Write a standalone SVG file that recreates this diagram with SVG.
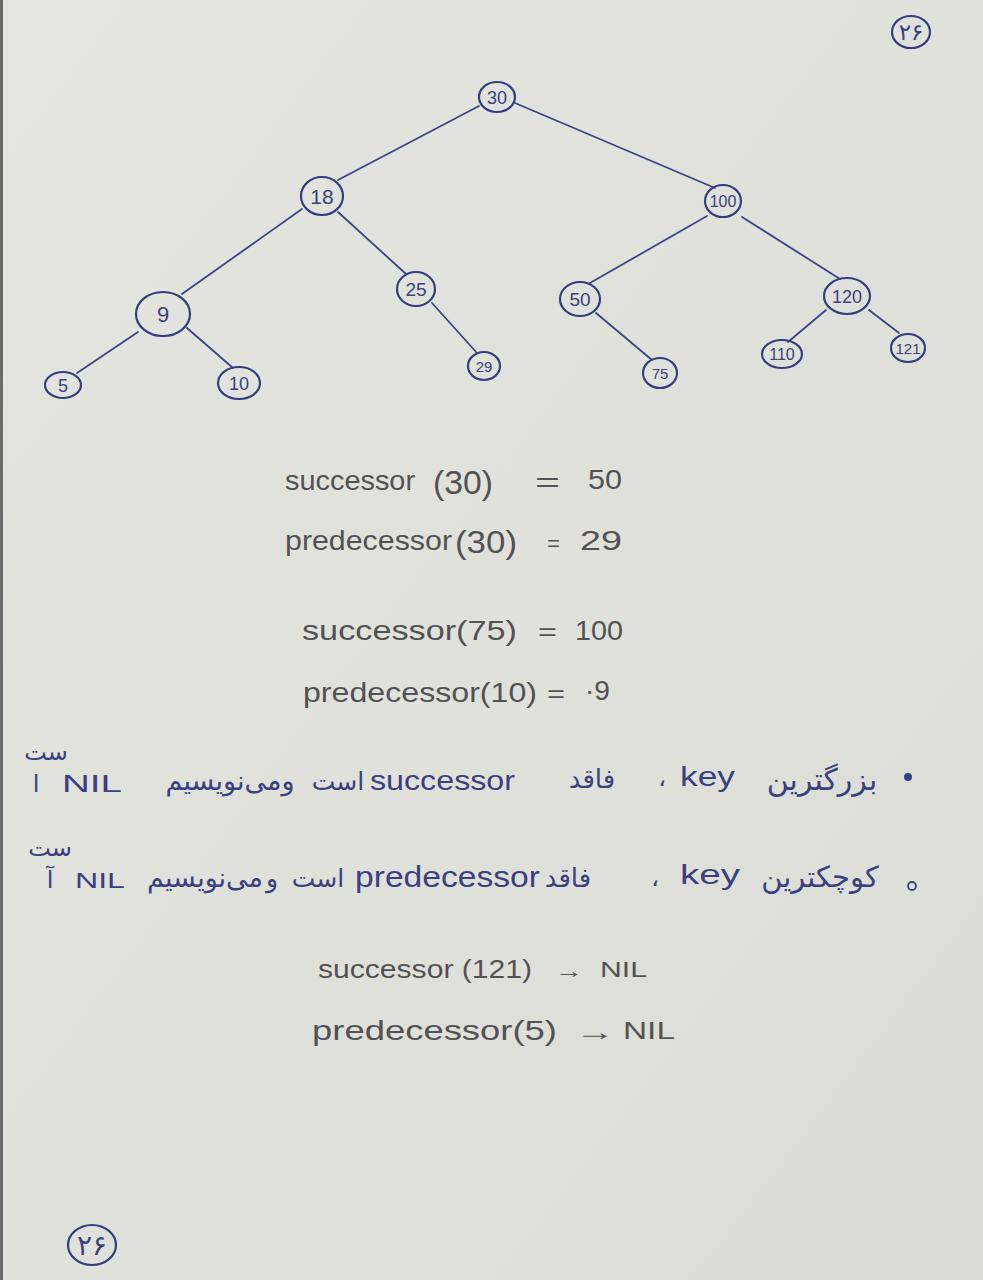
<svg xmlns="http://www.w3.org/2000/svg" width="983" height="1280" viewBox="0 0 983 1280">
<defs>
<linearGradient id="paper" x1="0" y1="0" x2="1" y2="1">
<stop offset="0" stop-color="#e4e4e0"/>
<stop offset="0.5" stop-color="#e1e1dc"/>
<stop offset="1" stop-color="#dcdcd6"/>
</linearGradient>
<style>
.edge{fill:none;stroke:#3d4484;stroke-width:1.8;stroke-linecap:round}
.ring{fill:none;stroke:#363d7e;stroke-width:2.2}
.nl{font-family:"Liberation Sans",sans-serif;fill:#3a4080;text-anchor:middle}
.pen{font-family:"Liberation Sans",sans-serif;fill:#525256}
.blue{font-family:"Liberation Sans",sans-serif;fill:#3a4080}
.fa{font-family:"DejaVu Sans","Noto Sans",sans-serif;fill:#3a4080;text-anchor:middle}
</style>
</defs>
<rect x="0" y="0" width="983" height="1280" fill="url(#paper)"/>
<rect x="0" y="0" width="3" height="1280" fill="#6a6a6a"/>

<g id="connectors">
<line class="edge" x1="479" y1="106" x2="338" y2="180"/>
<line class="edge" x1="515" y1="103" x2="715" y2="188"/>
<line class="edge" x1="302" y1="209" x2="182" y2="294"/>
<line class="edge" x1="338" y1="212" x2="406" y2="274"/>
<line class="edge" x1="138" y1="332" x2="77" y2="373"/>
<line class="edge" x1="187" y1="328" x2="233" y2="368"/>
<line class="edge" x1="432" y1="303" x2="477" y2="353"/>
<line class="edge" x1="707" y1="216" x2="590" y2="283"/>
<line class="edge" x1="742" y1="217" x2="840" y2="279"/>
<line class="edge" x1="596" y1="313" x2="652" y2="360"/>
<line class="edge" x1="826" y1="310" x2="788" y2="342"/>
<line class="edge" x1="869" y1="310" x2="899" y2="333"/>
</g>

<g id="n30"><ellipse class="ring" cx="497" cy="97" rx="18" ry="15"/><text class="nl" x="497" y="104" font-size="18">30</text></g>
<g id="n18"><ellipse class="ring" cx="322" cy="196" rx="21" ry="19"/><text class="nl" x="322" y="204" font-size="21">18</text></g>
<g id="n100"><ellipse class="ring" cx="723" cy="201" rx="18" ry="16"/><text class="nl" x="723" y="207" font-size="16">100</text></g>
<g id="n9"><ellipse class="ring" cx="163" cy="314" rx="27" ry="22"/><text class="nl" x="163" y="322" font-size="22">9</text></g>
<g id="n25"><ellipse class="ring" cx="416" cy="289" rx="19" ry="17"/><text class="nl" x="416" y="296" font-size="19">25</text></g>
<g id="n50"><ellipse class="ring" cx="580" cy="299" rx="20" ry="17"/><text class="nl" x="580" y="306" font-size="19">50</text></g>
<g id="n120"><ellipse class="ring" cx="847" cy="296" rx="23" ry="18"/><text class="nl" x="847" y="303" font-size="18">120</text></g>
<g id="n5"><ellipse class="ring" cx="63" cy="385" rx="18" ry="13"/><text class="nl" x="63" y="392" font-size="18">5</text></g>
<g id="n10"><ellipse class="ring" cx="239" cy="383" rx="21" ry="16"/><text class="nl" x="239" y="390" font-size="18">10</text></g>
<g id="n29"><ellipse class="ring" cx="484" cy="366" rx="16" ry="14"/><text class="nl" x="484" y="372" font-size="15">29</text></g>
<g id="n75"><ellipse class="ring" cx="660" cy="373" rx="17" ry="15"/><text class="nl" x="660" y="379" font-size="15">75</text></g>
<g id="n110"><ellipse class="ring" cx="782" cy="354" rx="20" ry="14"/><text class="nl" x="782" y="360" font-size="16">110</text></g>
<g id="n121"><ellipse class="ring" cx="908" cy="348" rx="17" ry="14"/><text class="nl" x="908" y="354" font-size="15">121</text></g>

<g id="page-top"><ellipse class="ring" cx="911" cy="32" rx="19" ry="16"/><text class="fa" x="911" y="40" font-size="23">۲۶</text></g>
<g id="page-bottom"><ellipse class="ring" cx="92" cy="1245" rx="24" ry="20"/><text class="fa" x="92" y="1255" font-size="28">۲۶</text></g>

<g id="formulas">
<text class="pen" x="285" y="490" font-size="28" textLength="130" lengthAdjust="spacingAndGlyphs">successor</text>
<text class="pen" x="433" y="494" font-size="34" textLength="60" lengthAdjust="spacingAndGlyphs">(30)</text>
<text class="pen" x="535" y="492" font-size="28" textLength="25" lengthAdjust="spacingAndGlyphs">=</text>
<text class="pen" x="588" y="489" font-size="28" textLength="34" lengthAdjust="spacingAndGlyphs">50</text>

<text class="pen" x="285" y="550" font-size="28" textLength="167" lengthAdjust="spacingAndGlyphs">predecessor</text>
<text class="pen" x="455" y="553" font-size="31" textLength="62" lengthAdjust="spacingAndGlyphs">(30)</text>
<text class="pen" x="547" y="551" font-size="22" textLength="13" lengthAdjust="spacingAndGlyphs">=</text>
<text class="pen" x="580" y="550" font-size="28" textLength="42" lengthAdjust="spacingAndGlyphs">29</text>

<text class="pen" x="302" y="640" font-size="28" textLength="215" lengthAdjust="spacingAndGlyphs">successor(75)</text>
<text class="pen" x="538" y="640" font-size="24" textLength="19" lengthAdjust="spacingAndGlyphs">=</text>
<text class="pen" x="575" y="640" font-size="28" textLength="48" lengthAdjust="spacingAndGlyphs">100</text>

<text class="pen" x="303" y="702" font-size="28" textLength="234" lengthAdjust="spacingAndGlyphs">predecessor(10)</text>
<text class="pen" x="547" y="702" font-size="24" textLength="18" lengthAdjust="spacingAndGlyphs">=</text>
<text class="pen" x="585" y="700" font-size="28" textLength="25" lengthAdjust="spacingAndGlyphs">·9</text>

<text class="pen" x="318" y="978" font-size="26" textLength="214" lengthAdjust="spacingAndGlyphs">successor (121)</text>
<text class="pen" x="555" y="978" font-size="22" textLength="28" lengthAdjust="spacingAndGlyphs">→</text>
<text class="pen" x="600" y="977" font-size="22" textLength="47" lengthAdjust="spacingAndGlyphs">NIL</text>

<text class="pen" x="312" y="1040" font-size="28" textLength="245" lengthAdjust="spacingAndGlyphs">predecessor(5)</text>
<text class="pen" x="575" y="1040" font-size="24" textLength="40" lengthAdjust="spacingAndGlyphs">→</text>
<text class="pen" x="623" y="1039" font-size="24" textLength="52" lengthAdjust="spacingAndGlyphs">NIL</text>
</g>

<g id="note1">
<circle cx="908" cy="777" r="4" fill="#3a4080"/>
<text class="fa" x="822" y="790" font-size="30">بزرگترین</text>
<text class="blue" x="680" y="786" font-size="28" textLength="55" lengthAdjust="spacingAndGlyphs">key</text>
<text class="fa" x="662" y="786" font-size="24">،</text>
<text class="fa" x="592" y="788" font-size="26">فاقد</text>
<text class="blue" x="370" y="790" font-size="27" textLength="145" lengthAdjust="spacingAndGlyphs">successor</text>
<text class="fa" x="338" y="790" font-size="25">است</text>
<text class="fa" x="230" y="790" font-size="27">ومی‌نویسیم</text>
<text class="blue" x="62" y="792" font-size="24" textLength="60" lengthAdjust="spacingAndGlyphs">NIL</text>
<text class="fa" x="36" y="792" font-size="24">ا</text>
<text class="fa" x="46" y="760" font-size="24">ست</text>
</g>

<g id="note2">
<circle cx="912" cy="886" r="4" fill="none" stroke="#3a4080" stroke-width="1.8"/>
<text class="fa" x="820" y="887" font-size="29">کوچکترین</text>
<text class="blue" x="680" y="884" font-size="28" textLength="60" lengthAdjust="spacingAndGlyphs">key</text>
<text class="fa" x="655" y="886" font-size="24">،</text>
<text class="fa" x="568" y="887" font-size="26">فاقد</text>
<text class="blue" x="355" y="887" font-size="29" textLength="185" lengthAdjust="spacingAndGlyphs">predecessor</text>
<text class="fa" x="318" y="887" font-size="25">است</text>
<text class="fa" x="272" y="887" font-size="25">و</text>
<text class="fa" x="205" y="887" font-size="27">می‌نویسیم</text>
<text class="blue" x="75" y="888" font-size="22" textLength="50" lengthAdjust="spacingAndGlyphs">NIL</text>
<text class="fa" x="50" y="888" font-size="24">آ</text>
<text class="fa" x="50" y="856" font-size="24">ست</text>
</g>
</svg>
